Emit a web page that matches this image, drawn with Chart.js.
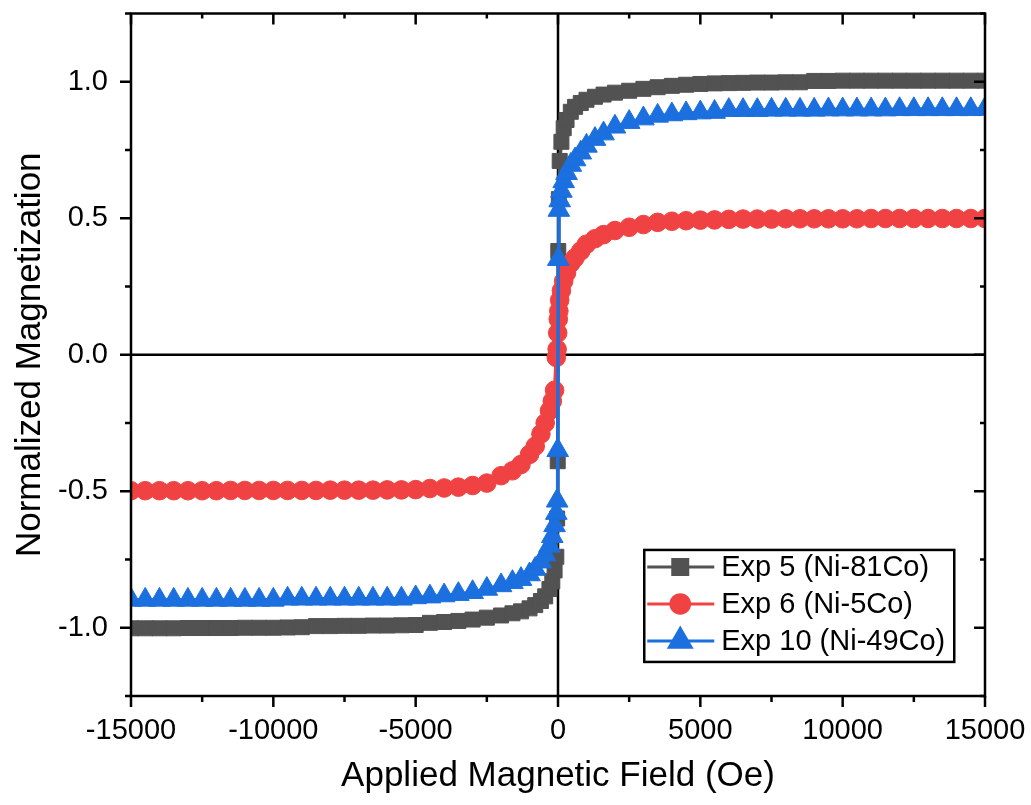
<!DOCTYPE html>
<html><head><meta charset="utf-8">
<script src="https://cdn.jsdelivr.net/npm/chart.js@4.4.1/dist/chart.umd.min.js"></script>
<style>html,body{margin:0;padding:0;background:#fff;} canvas{display:block;}</style>
</head><body>
<canvas id="c" width="1031" height="805"></canvas>
<script>
// Applied field (Oe)
const fieldOe = [-15000,-14500,-14000,-13500,-13000,-12500,-12000,-11500,-11000,-10500,-10000,-9500,-9000,-8500,-8000,-7500,-7000,-6500,-6000,-5500,-5000,-4500,-4000,-3500,-3000,
  -2500,-2000,-1600,-1300,-1000,-800,-600,-450,-300,-200,-120,-60,-30,-10,
  10,30,60,120,200,300,450,600,800,1000,1300,1600,2000,2500,
  3000,3500,4000,4500,5000,5500,6000,6500,7000,7500,8000,8500,9000,9500,10000,10500,11000,11500,12000,12500,13000,13500,14000,14500,15000];

// Normalized magnetization
const magExp5 = [-1.002,-1.002,-1.002,-1.002,-1.001,-1.001,-1.001,-1.001,-1.000,-1.000,-1.000,-0.999,-0.998,-0.994,-0.994,-0.993,-0.993,-0.992,-0.992,-0.991,-0.990,-0.982,-0.979,-0.975,-0.970,
  -0.963,-0.955,-0.947,-0.940,-0.929,-0.917,-0.902,-0.885,-0.858,-0.830,-0.790,-0.740,-0.600,-0.390,
  0.380,0.570,0.710,0.780,0.830,0.860,0.890,0.908,0.922,0.934,0.945,0.953,0.960,0.967,
  0.974,0.980,0.985,0.989,0.992,0.994,0.995,0.996,0.997,0.997,0.998,0.998,1.003,1.003,1.004,1.004,1.004,1.004,1.004,1.004,1.004,1.004,1.004,1.004,1.004];

const magExp6 = [-0.498,-0.498,-0.498,-0.498,-0.498,-0.498,-0.498,-0.497,-0.497,-0.497,-0.497,-0.497,-0.497,-0.497,-0.496,-0.496,-0.496,-0.496,-0.495,-0.495,-0.494,-0.490,-0.488,-0.485,-0.479,
  -0.470,-0.443,-0.425,-0.402,-0.365,-0.335,-0.290,-0.250,-0.205,-0.170,-0.130,-0.010,0.020,0.080,
  0.130,0.160,0.200,0.235,0.270,0.300,0.335,0.355,0.380,0.405,0.425,0.440,0.455,0.467,
  0.477,0.485,0.489,0.491,0.493,0.494,0.496,0.497,0.497,0.497,0.498,0.498,0.498,0.498,0.498,0.498,0.499,0.499,0.499,0.499,0.499,0.499,0.499,0.499,0.499];

const magExp10 = [-0.898,-0.898,-0.898,-0.898,-0.898,-0.898,-0.898,-0.898,-0.898,-0.898,-0.898,-0.894,-0.894,-0.894,-0.894,-0.894,-0.894,-0.894,-0.894,-0.894,-0.889,-0.886,-0.882,-0.877,-0.870,
  -0.858,-0.845,-0.833,-0.822,-0.805,-0.785,-0.758,-0.732,-0.700,-0.665,-0.625,-0.580,-0.535,-0.350,
  0.350,0.530,0.565,0.600,0.635,0.665,0.695,0.715,0.740,0.765,0.790,0.810,0.835,0.852,
  0.865,0.875,0.880,0.884,0.887,0.889,0.896,0.896,0.896,0.897,0.897,0.897,0.897,0.898,0.898,0.898,0.898,0.898,0.899,0.899,0.899,0.899,0.899,0.899,0.900];

const seriesLabels = ['Exp 5 (Ni-81Co)', 'Exp 6 (Ni-5Co)', 'Exp 10 (Ni-49Co)'];
const seriesColors = ['#525252', '#f04242', '#1b6fde'];

const xMajorTicks = [-15000,-10000,-5000,0,5000,10000,15000];
const xTickLabels = ['-15000','-10000','-5000','0','5000','10000','15000'];
const xMinorTicks = [-12500,-7500,-2500,2500,7500,12500];
const yMajorTicks = [-1,-0.5,0,0.5,1];
const yTickLabels = ['-1.0','-0.5','0.0','0.5','1.0'];
const yMinorTicks = [-1.25,-0.75,-0.25,0.25,0.75,1.25];

const FONT = "'Liberation Sans', Arial, Helvetica, sans-serif";
Chart.defaults.font.family = FONT;
Chart.defaults.color = '#000';

function toPts(mags){ return fieldOe.map((h,i)=>({x:h, y:mags[i]})); }

const styles = [
  {pointStyle:'rect', radius:10.6},
  {pointStyle:'circle', radius:9.3},
  {pointStyle:'triangle', radius:12.5}
];
const mags = [magExp5, magExp6, magExp10];
const orders = [3,2,1];

const datasets = mags.map((m,i)=>({
  label: seriesLabels[i],
  data: toPts(m),
  showLine: true,
  borderColor: seriesColors[i],
  backgroundColor: seriesColors[i],
  borderWidth: 3.5,
  pointStyle: styles[i].pointStyle,
  pointRadius: styles[i].radius,
  pointHoverRadius: styles[i].radius,
  pointBorderWidth: 1,
  pointBorderColor: seriesColors[i],
  pointBackgroundColor: seriesColors[i],
  tension: 0,
  clip: 0,
  order: orders[i]
}));

const framePlugin = {
  id: 'frame',
  beforeDatasetsDraw(chart){
    const {ctx, chartArea:a, scales:{x,y}} = chart;
    ctx.save();
    ctx.strokeStyle = '#000';
    ctx.lineWidth = 2.5;
    const x0 = x.getPixelForValue(0), y0 = y.getPixelForValue(0);
    ctx.beginPath();
    ctx.moveTo(x0, a.top); ctx.lineTo(x0, a.bottom);
    ctx.moveTo(a.left, y0); ctx.lineTo(a.right, y0);
    ctx.stroke();
    ctx.restore();
  },
  afterDraw(chart){
    const {ctx, chartArea:a, scales:{x,y}} = chart;
    ctx.save();
    ctx.strokeStyle = '#000';
    ctx.lineWidth = 2.5;
    ctx.strokeRect(a.left, a.top, a.right-a.left, a.bottom-a.top);
    ctx.beginPath();
    const MAJ = 11, MIN = 6, IMAJ = 11, IMIN = 5;
    xMajorTicks.forEach(v=>{const p=x.getPixelForValue(v);
      ctx.moveTo(p,a.bottom); ctx.lineTo(p,a.bottom+MAJ);
      ctx.moveTo(p,a.top); ctx.lineTo(p,a.top+IMAJ);});
    xMinorTicks.forEach(v=>{const p=x.getPixelForValue(v);
      ctx.moveTo(p,a.bottom); ctx.lineTo(p,a.bottom+MIN);
      ctx.moveTo(p,a.top); ctx.lineTo(p,a.top+IMIN);});
    yMajorTicks.forEach(v=>{const p=y.getPixelForValue(v);
      ctx.moveTo(a.left,p); ctx.lineTo(a.left-MAJ,p);
      ctx.moveTo(a.right,p); ctx.lineTo(a.right-IMAJ,p);});
    yMinorTicks.forEach(v=>{const p=y.getPixelForValue(v);
      ctx.moveTo(a.left,p); ctx.lineTo(a.left-MIN,p);
      ctx.moveTo(a.right,p); ctx.lineTo(a.right-IMIN,p);});
    ctx.stroke();

    // legend
    const lx = a.left + (a.right-a.left)*0.601, ly = a.top + (a.bottom-a.top)*0.786;
    const lw = 310, lh = 112;
    ctx.fillStyle = '#fff';
    ctx.fillRect(lx, ly, lw, lh);
    ctx.lineWidth = 2.5;
    ctx.strokeRect(lx, ly, lw, lh);
    const rows = [17, 54, 91];
    chart.data.datasets.forEach((ds,i)=>{
      const cy = ly + rows[i];
      ctx.strokeStyle = ds.borderColor;
      ctx.lineWidth = 3;
      ctx.beginPath(); ctx.moveTo(lx+3, cy); ctx.lineTo(lx+70, cy); ctx.stroke();
      ctx.fillStyle = ds.backgroundColor;
      ctx.strokeStyle = ds.borderColor;
      Chart.helpers.drawPoint(ctx, {pointStyle: ds.pointStyle, radius: ds.pointRadius, rotation: 0, borderWidth: 1}, lx+36, cy);
      ctx.fillStyle = '#000';
      ctx.font = '29px ' + FONT;
      ctx.textBaseline = 'middle';
      ctx.textAlign = 'left';
      ctx.fillText(ds.label, lx+77, cy+1);
    });
    ctx.restore();
  }
};

new Chart(document.getElementById('c'), {
  type: 'scatter',
  data: { datasets },
  options: {
    responsive: false,
    animation: false,
    events: [],
    layout: { padding: { left: 0, top: 11, right: 46, bottom: 0 } },
    plugins: { legend: { display: false }, tooltip: { enabled: false } },
    scales: {
      x: {
        type: 'linear', min: -15000, max: 15000,
        afterBuildTicks(s){ s.ticks = xMajorTicks.map(v=>({value:v})); },
        afterFit(s){ s.height = 109; s.paddingLeft = 0; s.paddingRight = 0; },
        grid: { display: false, drawTicks: true, tickLength: 11 },
        border: { display: false },
        ticks: { font: { size: 29 }, color: '#000', padding: 7, maxRotation: 0, autoSkip: false,
          callback(v, i){ return xTickLabels[i]; } },
        title: { display: true, text: 'Applied Magnetic Field (Oe)', font: { size: 35 }, color: '#000', padding: { top: 0, bottom: 8 } }
      },
      y: {
        type: 'linear', min: -1.25, max: 1.25,
        afterBuildTicks(s){ s.ticks = yMajorTicks.map(v=>({value:v})); },
        afterFit(s){ s.width = 131; s.paddingTop = 0; s.paddingBottom = 0; },
        grid: { display: false, drawTicks: true, tickLength: 11 },
        border: { display: false },
        ticks: { font: { size: 29 }, color: '#000', padding: 12, autoSkip: false,
          callback(v, i){ return yTickLabels[i]; } },
        title: { display: true, text: 'Normalized Magnetization', font: { size: 35 }, color: '#000', padding: { top: 9, bottom: 0 } }
      }
    }
  },
  plugins: [framePlugin]
});
</script>
</body></html>
